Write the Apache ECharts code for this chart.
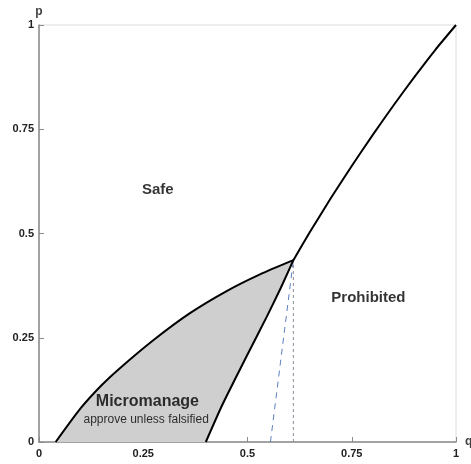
<!DOCTYPE html>
<html>
<head>
<meta charset="utf-8">
<script src="https://cdn.jsdelivr.net/npm/echarts@6/dist/echarts.min.js"></script>
<style>
  html, body { margin: 0; padding: 0; background: #fff; }
  #chart { width: 471px; height: 464px; }
</style>
</head>
<body>
<div id="chart"></div>
<script>
    // tick positions on both axes
    var ticks = [0, 0.25, 0.5, 0.75, 1];

    // boundary Safe / Prohibited, from the triple point up to (1,1)
    var safeBoundary = [[0.61, 0.436], [0.65, 0.504], [0.70, 0.585], [0.75, 0.662],
                        [0.80, 0.736], [0.85, 0.807], [0.90, 0.875], [0.95, 0.94], [1, 1]];
    // upper edge of the micromanage region
    var microTop = [[0.04, 0], [0.10, 0.081], [0.15, 0.136], [0.194, 0.177], [0.274, 0.244],
                    [0.362, 0.309], [0.45, 0.362], [0.53, 0.402], [0.61, 0.436]];
    // right edge of the micromanage region
    var microRight = [[0.40, 0], [0.44, 0.09], [0.50, 0.21], [0.546, 0.30],
                      [0.58, 0.37], [0.61, 0.436]];
    var blueDash = [[0.555, 0], [0.61, 0.436]];
    var grayDash = [[0.61, 0], [0.61, 0.436]];

    var regionNames = ["Safe", "Prohibited", "Micromanage", "approve unless falsified"];
    var regionPos = [[0.285, 0.604], [0.79, 0.345], [0.26, 0.098], [0.257, 0.053]];

    var font = "Liberation Sans, Arial, sans-serif";
    var chart = echarts.init(document.getElementById("chart"));

    var labelData = regionNames.map(function (n, i) {
        var sub = i === 3;
        return {
            value: regionPos[i],
            label: {
                show: true,
                position: "inside",
                formatter: n,
                fontFamily: font,
                fontSize: sub ? 12 : (i === 2 ? 16 : 15),
                fontWeight: sub ? "normal" : "bold",
                color: "#000"
            }
        };
    });

    var axisCommon = {
        type: "value",
        min: 0,
        max: 1,
        interval: 0.25,
        splitLine: { show: false },
        axisLine: { show: true, lineStyle: { color: "#8a8a8a", width: 1.5 } },
        axisTick: { show: true, inside: true, length: 5, lineStyle: { color: "#8a8a8a" } },
        axisLabel: { color: "#222", fontFamily: font, fontWeight: "bold", fontSize: 11 },
        nameTextStyle: { color: "#444", fontFamily: font, fontWeight: "bold", fontSize: 12 }
    };

    var option = {
        animation: false,
        grid: {
            left: 39, right: 15, top: 25, bottom: 22,
            containLabel: false, outerBoundsMode: "none",
            show: true, borderColor: "#dcdcdc", borderWidth: 1
        },
        xAxis: Object.assign({}, axisCommon, {
            name: "q", nameLocation: "end", nameGap: 9,
            axisLabel: Object.assign({}, axisCommon.axisLabel, { margin: 6 })
        }),
        yAxis: Object.assign({}, axisCommon, {
            name: "p", nameLocation: "end", nameGap: 7,
            nameTextStyle: Object.assign({}, axisCommon.nameTextStyle, { align: "center" }),
            axisLabel: Object.assign({}, axisCommon.axisLabel, { margin: 5 })
        }),
        series: [
            {
                type: "custom",
                z: 1,
                renderItem: function (params, api) {
                    var pts = microTop.concat(microRight.slice().reverse()).map(function (p) {
                        return api.coord(p);
                    });
                    return { type: "polygon", shape: { points: pts }, style: { fill: "#cfcfcf" } };
                },
                data: [[0, 0]]
            },
            {
                type: "line", data: grayDash, symbol: "none", z: 2,
                lineStyle: { color: "#8c8c9c", width: 1, type: [3, 3] }
            },
            {
                type: "line", data: blueDash, symbol: "none", z: 2,
                lineStyle: { color: "#5b7fc0", width: 1, type: [6, 5] }
            },
            {
                type: "line", data: microTop, symbol: "none", smooth: 0.2, z: 3,
                lineStyle: { color: "#000", width: 2 }
            },
            {
                type: "line", data: microRight, symbol: "none", smooth: 0.2, z: 3,
                lineStyle: { color: "#000", width: 2 }
            },
            {
                type: "line", data: safeBoundary, symbol: "none", smooth: 0.2, z: 3,
                lineStyle: { color: "#000", width: 2 }
            },
            {
                type: "scatter", data: labelData, symbolSize: 0, z: 5, silent: true
            }
        ]
    };
    chart.setOption(option);
</script>
</body>
</html>
